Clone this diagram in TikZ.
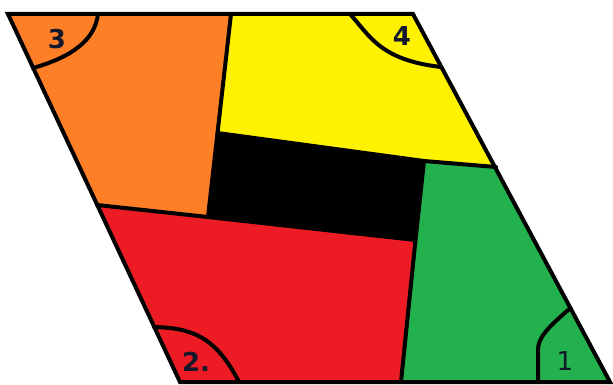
\documentclass[tikz,border=0pt]{standalone}
\usepackage{fontspec}
\setmainfont{DejaVu Sans}
\definecolor{pOrange}{RGB}{255,127,39}
\definecolor{pYellow}{RGB}{255,242,0}
\definecolor{pRed}{RGB}{237,28,36}
\definecolor{pGreen}{RGB}{34,177,76}
\definecolor{pText}{RGB}{20,24,44}
\tikzset{
  border/.style={line width=4pt, line join=miter, line cap=round, black},
  lbl/.style={text=pText, inner sep=0pt, font=\fontsize{26}{30}\selectfont},
  lblb/.style={lbl, font=\fontsize{26}{30}\selectfont\bfseries}
}
\begin{document}
\begin{tikzpicture}[x=1pt,y=-1pt]
\useasboundingbox[fill=white] (0,0) rectangle (613,385);
% key points
\coordinate (TL) at (8,14);
\coordinate (TR) at (413,14);
\coordinate (BR) at (610,382);
\coordinate (BL) at (180,382);
\coordinate (A) at (231,14);
\coordinate (B) at (217.5,133);
\coordinate (D) at (208,217);
\coordinate (H) at (97,205);
\coordinate (F) at (424,161);
\coordinate (E) at (496,167);
\coordinate (I) at (415.5,240);
\coordinate (G) at (401,382);
% fills
\fill[pOrange] (TL) -- (A) -- (B) -- (D) -- (H) -- cycle;
\fill[pYellow] (A) -- (TR) -- (E) -- (F) -- (B) -- cycle;
\fill[black] (B) -- (F) -- (I) -- (D) -- cycle;
\fill[pRed] (H) -- (D) -- (I) -- (G) -- (BL) -- cycle;
\fill[pGreen] (F) -- (E) -- (BR) -- (G) -- cycle;
% lines
\draw[border] (TL) -- (TR) -- (BR) -- (BL) -- cycle;
\draw[border] (A) -- (B) -- (D);
\draw[border] (H) -- (D) -- (I);
\draw[border] (B) -- (F) -- (E);
\draw[border] (F) -- (I) -- (G);
% corner curves
\coordinate (c3a) at (98,14);
\coordinate (c3b) at (33,68);
\draw[border] (c3a) .. controls (95,40) and (72,57) .. (c3b);
\coordinate (c4a) at (350,14);
\coordinate (c4b) at (441,67);
\draw[border] (c4a) .. controls (370,36) and (380,60) .. (c4b);
\coordinate (c1a) at (538,382);
\coordinate (c1m) at (538,350);
\coordinate (c1b) at (570.5,308);
\draw[border] (c1a) -- (c1m) .. controls (538,338) and (547,328) .. (c1b);
\coordinate (c2a) at (154,327);
\coordinate (c2b) at (239,382);
\draw[border] (c2a) .. controls (190,328) and (215,335) .. (c2b);
% labels
\node[lblb] (l3) at (57,39) {3};
\node[lblb] (l4) at (402,36) {4};
\node[lbl] (l1) at (565,361) {1};
\node[lblb] (l2) at (196,362) {2.};
\end{tikzpicture}
\end{document}
